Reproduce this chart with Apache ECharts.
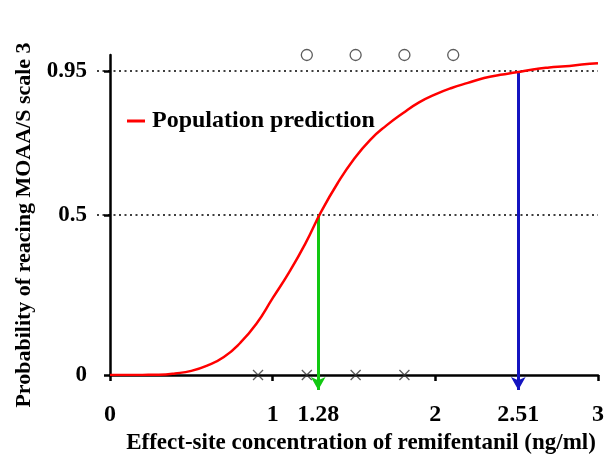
<!DOCTYPE html>
<html>
<head>
<meta charset="utf-8">
<script src="https://cdn.jsdelivr.net/npm/echarts@6/dist/echarts.min.js"></script>
<style>
html,body{margin:0;padding:0;background:#fff;}
#chart{width:613px;height:464px;}
</style>
</head>
<body>
<div id="chart"></div>
<script>
// Data
const concentration = [0,0.1,0.2,0.3,0.4,0.5,0.6,0.7,0.8,0.9,1.0,1.1,1.2,1.3,1.4,1.5,1.6,1.7,1.8,1.9,2.0,2.1,2.2,2.3,2.4,2.5,2.6,2.7,2.8,2.9,3.0];
const probability   = [0,0,0.0003,0.001,0.005,0.013,0.03,0.056,0.10,0.16,0.24,0.32,0.41,0.512,0.60,0.675,0.735,0.78,0.818,0.852,0.877,0.897,0.913,0.928,0.938,0.946,0.955,0.961,0.965,0.970,0.974];
const respondersX   = [1.21,1.51,1.81,2.11];   // circles, at probability 1
const respondersY   = [1,1,1,1];
const nonRespX      = [0.91,1.21,1.51,1.81];   // crosses, at probability 0
const nonRespY      = [0,0,0,0];
const ec50 = 1.28, ec95 = 2.51;
const p50 = 0.5, p95 = 0.95;
const xTicks = [0,1,1.28,2,2.51,3];
const yTicks = [0,0.5,0.95];
const seriesName = 'Population prediction';
const xTitle = 'Effect-site concentration of remifentanil (ng/ml)';
const yTitle = 'Probability of reacing MOAA/S scale 3';

const font = '"Liberation Serif", "Times New Roman", serif';
const yAxisOffset = 15, xAxisOffset = 19;
const chart = echarts.init(document.getElementById('chart'), null, {renderer:'canvas'});
const curve = concentration.map((c,i)=>[c, probability[i]]);
const circles = respondersX.map((c,i)=>[c, respondersY[i]]);
const crosses = nonRespX.map((c,i)=>[c, nonRespY[i]]);
const txt = (size)=>({fontFamily:font,fontWeight:'bold',fontSize:size,color:'#000'});

chart.setOption({
  animation:false,
  backgroundColor:'#fff',
  grid:{left:110,right:15,top:55,bottom:89,containLabel:false},
  legend:{
    data:[{name:seriesName, icon:'rect'}],
    left:122, top:104, itemWidth:18, itemHeight:3, itemGap:10,
    textStyle:Object.assign(txt(24),{padding:[0,0,0,2]})
  },
  xAxis:{
    type:'value', min:0, max:3, offset:xAxisOffset,
    name:xTitle, nameLocation:'middle', nameGap:33,
    nameTextStyle:Object.assign(txt(23),{padding:[0,0,0,14]}),
    axisLine:{show:true,lineStyle:{color:'#000',width:2.5}},
    axisTick:{show:true,length:6,customValues:xTicks,lineStyle:{color:'#000',width:2.5}},
    axisLabel:{customValues:xTicks,margin:9,...txt(24),formatter:v=>String(v)},
    splitLine:{show:false}
  },
  yAxis:{
    type:'value', min:0, max:1, offset:yAxisOffset,
    name:yTitle, nameLocation:'middle', nameGap:60, nameRotate:90,
    nameTextStyle:Object.assign(txt(22),{padding:[0,20,0,0]}),
    axisLine:{show:true,lineStyle:{color:'#000',width:2.5}},
    axisTick:{show:true,length:6,customValues:yTicks,lineStyle:{color:'#000',width:2.5}},
    axisLabel:{customValues:yTicks,margin:8,...txt(23),formatter:v=>String(v)},
    splitLine:{show:false}
  },
  series:[
    {
      name:seriesName, type:'line', data:curve, smooth:true, showSymbol:false,
      lineStyle:{color:'#ff0000',width:2.5}, itemStyle:{color:'#ff0000'}, z:5
    },
    {
      name:'responders', type:'scatter', data:circles, clip:false, symbol:'circle', symbolSize:11,
      itemStyle:{color:'#fff',borderColor:'#333',borderWidth:1.3}
    },
    {
      name:'non-responders', type:'scatter', data:crosses, clip:false,
      symbol:'path://M0,0L10,10M10,0L0,10', symbolSize:10,
      itemStyle:{color:'none',borderColor:'#333',borderWidth:1.3}
    }
  ]
});

// Reference lines and arrows, positioned through the chart's own scales
const toPx = (x,y)=>chart.convertToPixel({xAxisIndex:0,yAxisIndex:0},[x,y]);
const yAxisX = toPx(0,0)[0] - yAxisOffset;
const arrowEndY = toPx(0,0)[1] + 15;
const hLine = (p)=>{const a=toPx(0,p), b=toPx(3,p); return [{x:yAxisX+2,y:a[1]},{x:b[0],y:b[1]}];};
const vArrow = (c,p)=>{const a=toPx(c,p); return [{x:a[0],y:a[1]},{x:a[0],y:arrowEndY}];};
const g50 = vArrow(ec50,p50), g95 = vArrow(ec95,p95);
g50[0].lineStyle={color:'#11c811',width:3,type:'solid'};
g95[0].lineStyle={color:'#1414c0',width:3,type:'solid'};

chart.setOption({
  series:[
    {
      name:seriesName,
      markLine:{
        silent:true, symbol:['none','none'], label:{show:false}, z:1,
        lineStyle:{color:'#000',type:[2,3.5],width:1.5},
        data:[hLine(p50), hLine(p95)]
      }
    },
    {
      name:'responders',
      markLine:{
        silent:true, symbol:['none','arrow'], symbolSize:[11,13], label:{show:false},
        data:[g50, g95]
      }
    }
  ]
});
</script>
</body>
</html>
